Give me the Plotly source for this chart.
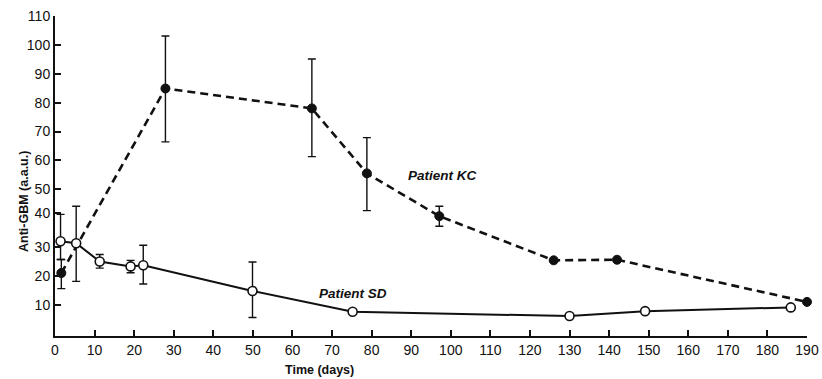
import plotly.graph_objects as go

# Patient SD (open circles, solid line)
sd_days = [1.4, 5.35, 11.3, 19.1, 22.3, 49.9, 75.2, 130.0, 149.1, 185.9]
sd_vals = [32.0, 31.3, 25.0, 23.3, 23.7, 14.8, 7.6, 6.1, 7.8, 9.1]
sd_err_plus = [9.3, 12.8, 2.4, 2.1, 6.9, 10.0, 0, 0, 0, 0]
sd_err_minus = [6.3, 13.2, 2.3, 2.2, 6.5, 9.2, 0, 0, 0, 0]

# Patient KC (filled circles, dashed line)
kc_days = [1.6, 27.9, 64.9, 78.8, 97.1, 126.0, 142.0, 190.0]
kc_vals = [21.0, 84.9, 78.0, 55.5, 40.7, 25.4, 25.6, 11.0]
kc_err_plus = [4.7, 18.2, 17.1, 12.4, 3.4, 0, 0, 0]
kc_err_minus = [5.4, 18.5, 16.7, 12.9, 3.5, 0, 0, 0]

x_ticks = list(range(0, 200, 10))
y_tick_vals = [10, 20, 30, 41.8, 50, 60, 70, 80, 90, 100, 110]
y_tick_text = ["10", "20", "30", "40", "50", "60", "70", "80", "90", "100", "110"]

FONT = "Liberation Sans, Arial, Helvetica, sans-serif"
INK = "#111111"

fig = go.Figure()

fig.add_trace(go.Scatter(
    x=kc_days, y=kc_vals, mode="lines+markers",
    line=dict(color=INK, width=2.6, dash="8px,5px"),
    marker=dict(symbol="circle", size=9, color=INK, line=dict(color=INK, width=1)),
    error_y=dict(type="data", symmetric=False, array=kc_err_plus, arrayminus=kc_err_minus,
                 color=INK, thickness=1.4, width=4),
    cliponaxis=False, showlegend=False,
))

fig.add_trace(go.Scatter(
    x=sd_days, y=sd_vals, mode="lines+markers",
    line=dict(color=INK, width=2.0),
    marker=dict(symbol="circle", size=9, color="white", line=dict(color=INK, width=1.6)),
    error_y=dict(type="data", symmetric=False, array=sd_err_plus, arrayminus=sd_err_minus,
                 color=INK, thickness=1.4, width=4),
    cliponaxis=False, showlegend=False,
))

fig.update_layout(
    template="none",
    width=822, height=379,
    margin=dict(l=55, r=15, t=16, b=43, autoexpand=False),
    paper_bgcolor="white", plot_bgcolor="white",
    font=dict(family=FONT, size=14, color=INK),
    xaxis=dict(
        range=[0, 190], tickmode="array", tickvals=x_ticks, automargin=False,
        ticks="inside", ticklen=6, tickwidth=1.5, tickcolor=INK,
        showline=True, linecolor=INK, linewidth=2, showgrid=False, zeroline=False,
        tickfont=dict(family=FONT, size=14, color=INK),
    ),
    yaxis=dict(
        range=[-0.8, 110], tickmode="array", tickvals=y_tick_vals, ticktext=y_tick_text,
        automargin=False,
        ticks="inside", ticklen=6, tickwidth=1.5, tickcolor=INK,
        showline=True, linecolor=INK, linewidth=2, showgrid=False, zeroline=False,
        tickfont=dict(family=FONT, size=14, color=INK),
    ),
    annotations=[
        dict(text="<b>Anti-GBM (a.a.u.)</b>", xref="paper", yref="paper",
             x=-0.054, y=0.42, textangle=-90, showarrow=False,
             font=dict(family=FONT, size=12.5, color=INK)),
        dict(text="<b>Time (days)</b>", xref="x", yref="paper",
             x=66.8, y=-0.105, showarrow=False, yanchor="middle",
             font=dict(family=FONT, size=12.5, color=INK)),
        dict(text="<b><i>Patient KC</i></b>", xref="x", yref="y",
             x=97.9, y=54.7, showarrow=False,
             font=dict(family=FONT, size=13.5, color=INK)),
        dict(text="<b><i>Patient SD</i></b>", xref="x", yref="y",
             x=75.3, y=14.0, showarrow=False,
             font=dict(family=FONT, size=13.5, color=INK)),
    ],
)

fig.write_html("out.html")
